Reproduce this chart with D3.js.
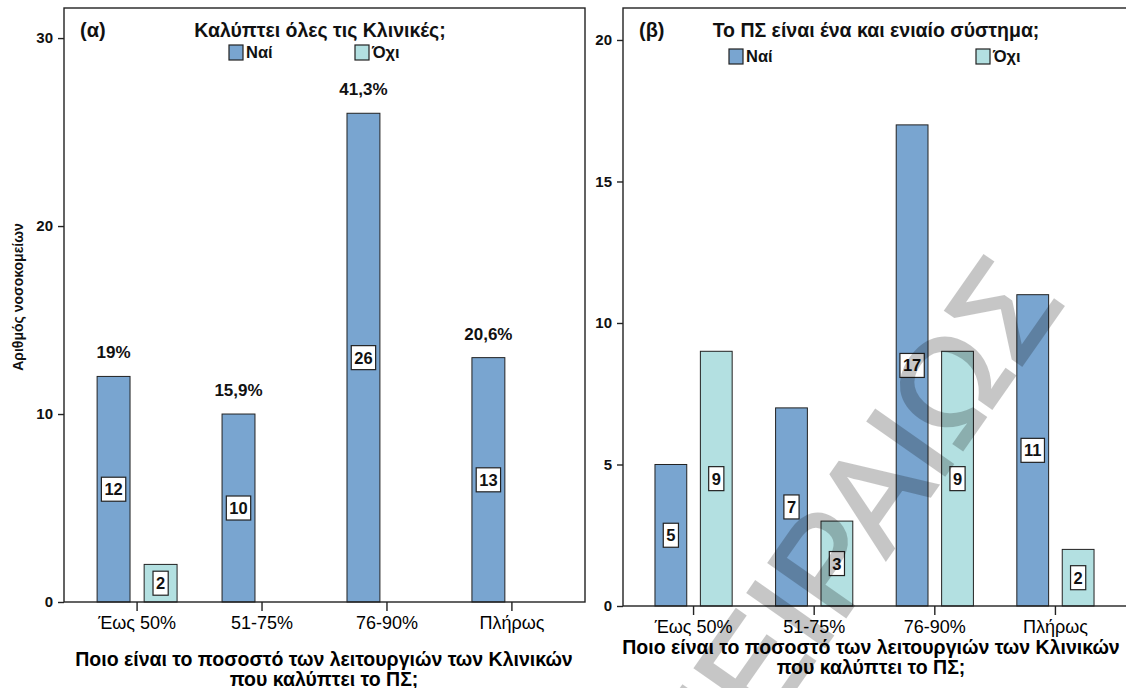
<!DOCTYPE html>
<html lang="el">
<head>
<meta charset="UTF-8">
<title>Ποσοστό λειτουργιών Κλινικών που καλύπτει το ΠΣ</title>
<script src="https://cdn.jsdelivr.net/npm/d3@7"></script>
<style>
  body { margin: 0; background: #fff; }
  svg { display: block; font-family: "Liberation Sans", Arial, sans-serif; }
</style>
</head>
<body>
<svg id="chart"></svg>
<script>
// DATA
const categories = ["Έως 50%", "51-75%", "76-90%", "Πλήρως"];
const series = ["Ναί", "Όχι"];

// (α) Καλύπτει όλες τις Κλινικές;
const clinicsYes = [12, 10, 26, 13];
const clinicsNo = [2, 0, 0, 0];
const clinicsYesPct = ["19%", "15,9%", "41,3%", "20,6%"];
const clinicsTicks = [0, 10, 20, 30];

// (β) Το ΠΣ είναι ένα και ενιαίο σύστημα;
const unifiedYes = [5, 7, 17, 11];
const unifiedNo = [9, 3, 9, 2];
const unifiedTicks = [0, 5, 10, 15, 20];

const xTitle = ["Ποιο είναι το ποσοστό των λειτουργιών των Κλινικών", "που καλύπτει το ΠΣ;"];
const colors = {"Ναί": "#79a5d0", "Όχι": "#b3e0e1"};

const width = 1126, height = 688;
const svg = d3.select("#chart").attr("width", width).attr("height", height);

function drawPanel(opt) {
    const g = svg.append("g");

    // scales
    const y = d3.scaleLinear().domain([0, opt.yMax]).range([opt.bottom, opt.top]);
    const x = d3.scaleBand().domain(categories)
        .range([opt.left, opt.right]).paddingInner(0.36).paddingOuter(0.265);
    const xs = d3.scaleBand().domain(series)
        .range([0, x.bandwidth()]).paddingInner(0.3);

    const rows = categories.flatMap((c, i) =>
        series.map((s, j) => ({c, s, v: opt.values[j][i]})))
        .filter(d => d.v > 0);

    // bars
    g.selectAll("rect.bar").data(rows).join("rect")
        .attr("class", "bar")
        .attr("x", d => x(d.c) + xs(d.s))
        .attr("y", d => y(d.v))
        .attr("width", xs.bandwidth())
        .attr("height", d => y(0) - y(d.v))
        .attr("fill", d => colors[d.s])
        .attr("stroke", "#222")
        .attr("stroke-width", 1);

    // frame
    g.append("rect")
        .attr("x", opt.left).attr("y", opt.top)
        .attr("width", opt.frameRight - opt.left).attr("height", opt.bottom - opt.top)
        .attr("fill", "none").attr("stroke", "#222").attr("stroke-width", 1.4);

    // axes
    const yAxis = g.append("g")
        .attr("transform", `translate(${opt.left},0)`)
        .call(d3.axisLeft(y).tickValues(opt.ticks).tickSize(6).tickPadding(5));
    yAxis.select(".domain").remove();
    yAxis.selectAll("line").attr("stroke", "#222").attr("stroke-width", 1.4);
    yAxis.selectAll("text").attr("fill", "#111")
        .style("font-size", "15px").style("font-weight", "bold");

    const xAxis = g.append("g")
        .attr("transform", `translate(0,${opt.bottom})`)
        .call(d3.axisBottom(x).tickSize(9).tickPadding(5));
    xAxis.select(".domain").remove();
    xAxis.selectAll("line").attr("stroke", "#222").attr("stroke-width", 1.4);
    xAxis.selectAll("text").attr("fill", "#000")
        .style("font-size", "18px");

    // value boxes in the middle of bars
    const box = g.selectAll("g.val").data(rows).join("g")
        .attr("class", "val")
        .attr("transform", d => `translate(${x(d.c) + xs(d.s) + xs.bandwidth() / 2},${y(d.v / 2)})`);
    box.append("rect");
    box.append("text")
        .attr("text-anchor", "middle").attr("dy", "0.36em")
        .style("font-size", "16.5px").style("font-weight", "bold")
        .attr("fill", "#111")
        .text(d => d.v);
    box.each(function () {
        const t = d3.select(this).select("text").node().getBBox();
        d3.select(this).select("rect")
            .attr("x", t.x - 3).attr("y", -12)
            .attr("width", t.width + 6).attr("height", 24)
            .attr("fill", "#fff").attr("stroke", "#222").attr("stroke-width", 1.2);
    });

    // percentages above the "Ναί" bars
    if (opt.pct) {
        g.selectAll("text.pct").data(categories).join("text")
            .attr("class", "pct")
            .attr("x", c => x(c) + xs("Ναί") + xs.bandwidth() / 2)
            .attr("y", (c, i) => y(opt.values[0][i]) - 18)
            .attr("text-anchor", "middle")
            .style("font-size", "17px").style("font-weight", "bold")
            .attr("fill", "#111")
            .text((c, i) => opt.pct[i]);
    }

    // panel label and title
    g.append("text").attr("x", opt.left + 16).attr("y", 37)
        .style("font-size", "20px").style("font-weight", "bold").attr("fill", "#111")
        .text(opt.tag);
    g.append("text").attr("x", opt.titleX).attr("y", 37)
        .attr("text-anchor", "middle")
        .style("font-size", "19.5px").style("font-weight", "bold").attr("fill", "#111")
        .text(opt.title);

    // legend
    const leg = g.selectAll("g.leg").data(series).join("g")
        .attr("class", "leg")
        .attr("transform", (s, i) => `translate(${opt.legendX[i]},${opt.legendY})`);
    leg.append("rect").attr("width", 14).attr("height", 15)
        .attr("fill", s => colors[s]).attr("stroke", "#222").attr("stroke-width", 1.2);
    leg.append("text").attr("x", 17).attr("y", 13)
        .style("font-size", "16.5px").style("font-weight", "bold").attr("fill", "#111")
        .text(s => s);

    // x axis title
    g.append("text")
        .attr("text-anchor", "middle")
        .style("font-size", "19.5px").style("font-weight", "bold").attr("fill", "#000")
        .selectAll("tspan").data(xTitle).join("tspan")
        .attr("x", opt.xTitleX)
        .attr("y", (d, i) => opt.xTitleY + i * 19.5)
        .text(d => d);

    return {x, y};
}

drawPanel({
    left: 64, right: 585, frameRight: 585, top: 8, bottom: 602,
    yMax: 31.6, ticks: clinicsTicks,
    values: [clinicsYes, clinicsNo], pct: clinicsYesPct,
    tag: "(α)", title: "Καλύπτει όλες τις Κλινικές;", titleX: 320,
    legendX: [229, 355], legendY: 45, xTitleX: 324, xTitleY: 666
});

drawPanel({
    left: 623, right: 1126, frameRight: 1130, top: 8, bottom: 606,
    yMax: 21.13, ticks: unifiedTicks,
    values: [unifiedYes, unifiedNo],
    tag: "(β)", title: "Το ΠΣ είναι ένα και ενιαίο σύστημα;", titleX: 876,
    legendX: [729, 976], legendY: 49, xTitleX: 871, xTitleY: 654
});

// y axis title, left panel only
svg.append("text")
    .attr("transform", "translate(23,297) rotate(-90)")
    .attr("text-anchor", "middle")
    .style("font-size", "14px").style("font-weight", "bold").attr("fill", "#111")
    .text("Αριθμός νοσοκομείων");

// watermark
svg.append("g")
    .attr("opacity", 0.22)
    .append("text")
    .attr("transform", "translate(1066,302) rotate(-55)")
    .attr("text-anchor", "end")
    .style("font-size", "136px")
    .attr("fill", "#000").attr("stroke", "#000").attr("stroke-width", 3)
    .text("ΠΕΙΡΑΙΩΣ");
</script>
</body>
</html>
